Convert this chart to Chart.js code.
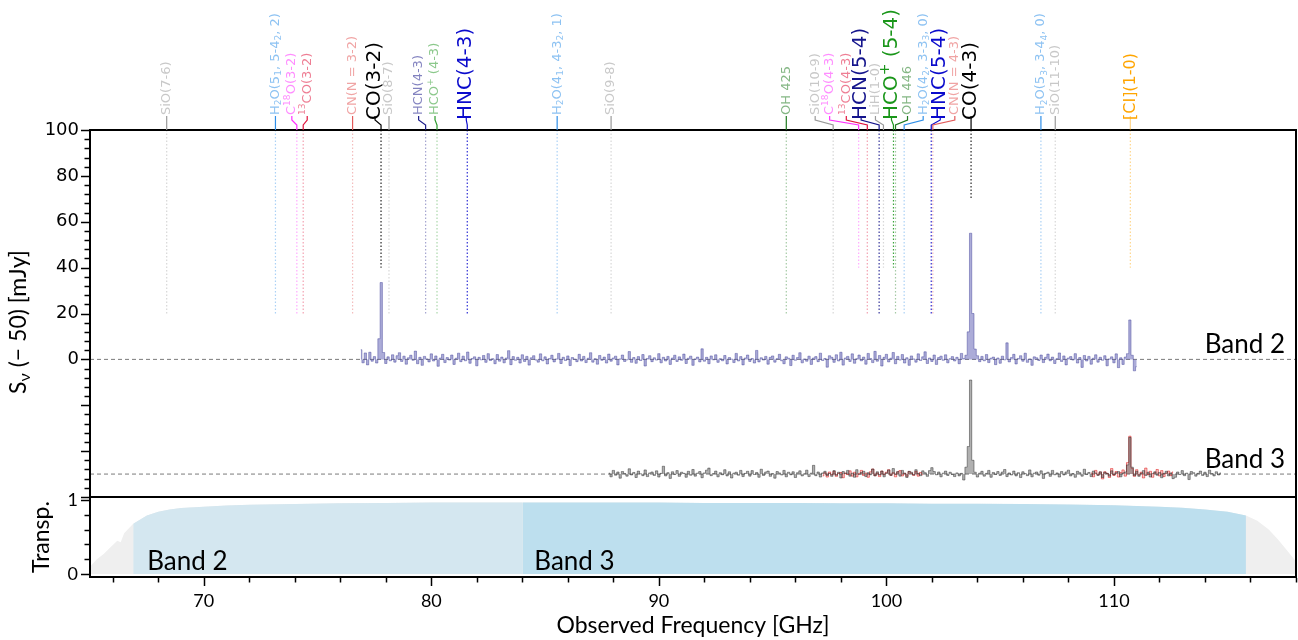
<!DOCTYPE html>
<html>
<head>
<meta charset="utf-8">
<title>Spectral scan – Band 2 / Band 3</title>
<script src="https://cdn.jsdelivr.net/npm/chart.js@4.4.1/dist/chart.umd.min.js"></script>
<style>
  html, body { margin: 0; padding: 0; background: #fff; }
  #wrap { width: 1298px; height: 640px; }
</style>
</head>
<body>
<div id="wrap"><canvas id="spec" width="1298" height="640"></canvas></div>
<script>
// frequency window [GHz]
const freqMin = 65;
const freqMax = 118;

// Band 2 spectrum [mJy], 0.1 GHz channels
const band2Start = 76.9;
const band2Step = 0.1;
const band2Flux = [
  4.2, -1.5, 2.8, -2.4, 3.1, -0.8, 1.2, -1.6, 9.0, 33.5, 3.0, -1.8, 1.1, -0.6, 2.0, -1.2, 1.6, 2.9, -0.9, 1.4,
  -2.1, 0.7, 1.8, -0.4, 3.6, -1.9, 0.9, -2.6, 1.3, 0.2, -1.1, 2.4, -0.7, 1.5, -3.0, 0.6, 2.2, -1.4, 0.8, -0.3,
  1.9, -2.2, 0.5, 2.7, -1.0, 1.4, -0.6, 3.2, -1.7, 0.4, 1.1, -2.8, 0.9, -0.2, 1.7, -1.3, 2.5, -0.5, 0.3, -1.9,
  2.1, -0.8, 1.0, -1.5, 0.6, 3.8, -2.3, 1.2, -0.4, 0.9, -1.6, 2.0, -0.9, 1.3, -2.5, 0.7, 1.6, -0.3, -1.2, 2.4,
  -0.6, 1.1, -2.0, 0.4, 1.8, -1.1, 0.2, 2.6, -1.8, 0.9, -0.5, 1.5, -2.7, 0.8, 0.1, -1.0, 2.2, -0.7, 1.3, -1.4,
  0.5, 2.9, -1.2, 0.3, -2.1, 1.7, -0.4, 1.0, -1.6, 2.3, -0.8, 0.6, 1.4, -2.4, 0.2, 1.9, -0.9, -0.2, 3.4, -1.3,
  0.8, -1.7, 1.2, -0.5, 2.1, -2.9, 0.4, 1.6, -1.0, 0.7, -0.3, 2.5, -1.5, 0.9, -0.7, 1.3, -2.2, 0.6, 1.8, -0.9,
  1.1, -0.4, 2.3, -1.8, 0.5, 1.4, -2.6, 0.2, 1.0, -1.1, 4.6, -0.8, 0.9, -1.9, 1.5, -0.2, 2.0, -1.3, 0.3, -0.6,
  1.7, -2.0, 0.8, 0.1, -1.4, 2.6, -0.7, 1.2, -2.4, 0.6, 1.9, -0.9, 0.4, -1.6, 3.9, -1.1, 0.7, -0.3, 1.3, -2.1,
  0.9, 1.5, -1.2, 0.3, 2.2, -0.6, -1.9, 1.1, 0.5, -2.7, 1.8, -0.4, 0.8, 2.9, -1.5, 0.2, -0.8, 1.4, -2.2, 0.6,
  1.2, -1.0, 2.7, -0.5, 0.4, -3.4, 1.6, 0.9, -1.3, 2.0, -0.7, 3.1, -2.5, 0.6, 1.3, -0.9, 2.4, -1.7, 0.3, 1.9,
  -0.6, 1.0, -2.1, 2.6, 0.4, -1.4, 3.5, -0.8, 1.7, -2.9, 0.9, 2.2, -1.1, 0.5, 3.0, -1.9, 1.3, -0.3, 2.1, -1.6,
  0.7, -2.6, 1.5, 0.2, -1.2, 2.4, -0.5, 1.1, 3.3, -1.8, 0.6, -0.9, 1.9, -2.2, 0.8, 1.4, -0.4, 2.0, -1.5, 0.3,
  1.2, -0.7, 0.9, -1.9, 2.6, 0.4, 1.8, 12.0, 55.0, 20.0, 4.5, 1.6, -1.0, 1.3, -0.6, 2.1, -1.4, 0.5, 1.0, -2.3,
  0.6, -1.7, 1.4, -0.2, 7.2, -1.1, 0.8, 2.2, -2.0, 0.4, 1.6, -0.8, 2.7, -1.3, 0.2, -2.6, 1.1, 0.7, -0.5, 1.9,
  -1.4, 0.9, 2.3, -0.6, 1.0, -1.8, 0.3, 2.8, -0.9, 1.5, -2.4, 0.6, 1.2, -0.3, 2.5, -1.6, 0.8, -3.5, 1.7, -0.7,
  1.3, -2.1, 0.5, 2.0, -1.2, 0.9, -0.4, 1.6, -2.8, 0.2, 1.1, -1.5, 2.4, -3.6, 0.7, -2.2, 1.0, 2.5, 17.2, 1.8,
  -5.0, -3.2
];

// Band 3 spectrum [mJy], drawn shifted down by band3Offset
const band3Start = 87.8;
const band3Step = 0.1;
const band3Offset = -50;
const band3Flux = [
  0.4, -1.2, 1.6, -0.5, 0.9, -1.8, 1.1, 0.2, -0.9, 2.3, -0.4, 0.7, -1.5, 1.3, 0.1, -0.7, 1.8, -1.1, 0.5, 0.9,
  -0.6, 1.4, -1.3, 0.3, 3.4, -0.8, 0.6, -1.9, 1.0, -0.2, 1.5, -1.0, 0.8, 0.3, -1.4, 1.2, -0.5, 2.0, -0.9, 0.4,
  1.1, -1.6, 0.5, 1.7, 2.6, -0.7, 0.2, 1.3, -1.2, 0.6, -0.3, 1.9, -0.8, 1.0, -1.7, 0.4, 0.8, -0.5, 1.6, -1.1,
  0.3, 1.2, -0.9, 1.5, -0.2, 0.7, -1.4, 2.1, -0.6, 0.9, 1.3, -1.0, 0.2, -1.8, 1.1, 0.5, -0.4, 1.6, -1.2, 0.8,
  -0.3, 1.0, -1.5, 0.6, 1.4, -0.8, 0.1, 1.7, -1.1, 0.4, 3.8, -0.7, 0.9, -1.3, 0.5, 1.2, -0.6, 0.3, -1.0, 1.5,
  -0.5, 0.8, -1.7, 1.1, 0.2, 1.6, -0.9, 0.4, -1.4, 1.9, -0.2, 0.7, 1.2, -1.1, 0.6, -0.3, 2.2, -0.8, 1.0, -0.4,
  1.3, -1.2, 0.5, 1.8, -0.6, 2.4, -0.1, 1.1, -0.9, 1.6, 0.4, -1.5, 1.2, 0.8, -0.4, 1.9, 0.3, -0.7, 1.4, 0.6,
  -1.0, 1.5, 2.8, 1.1, -0.3, 0.9, -1.2, 0.4, 1.3, -0.6, 0.8, -0.2, -1.1, 0.5, -0.8, 0.3, -2.6, 3.0, 12.0, 41.0,
  6.0, 0.8, -1.3, 0.4, 1.2, -0.9, 0.3, 1.6, -1.4, 0.7, -0.2, 1.1, -0.6, 0.9, 2.0, -1.1, 0.5, -0.4, 1.3, -0.8,
  0.6, -1.5, 1.0, 0.2, -0.7, 1.8, -1.2, 0.4, 0.9, -0.5, 1.4, -1.9, 0.3, 0.8, -1.0, 1.6, -0.3, 0.5, -1.3, 1.1,
  -0.4, 0.9, 1.7, -0.8, 0.2, -1.4, 1.2, 0.6, -0.9, 2.1, -0.2, 0.7, -1.1, 1.3, 0.4, -0.6, 1.0, -1.5, 0.8, 0.3,
  -0.9, 1.4, -0.3, 0.6, 1.1, -1.2, 0.5, 0.9, 4.0, 16.0, 3.0, -0.7, 1.2, -1.0, 0.4, 1.5, -0.6, 0.8, -1.3, 0.2,
  1.0, -0.5, 0.7, -1.6, 0.3, 1.2, -0.8, 0.5, -2.0, -1.4, 0.9, -0.2, 1.5, -0.7, 0.4, -2.4, 1.1, 0.6, -0.9, 0.3,
  1.3, -0.6, 0.8, -1.1, 1.7, 0.2, -0.8, 1.0, -0.4, 0.5
];

// second Band 3 tuning (two short windows)
const band3bStep = 0.1;
const band3bStartA = 97.2;
const band3bFluxA = [
  -0.8, 0.6, -1.3, 0.9, -0.4, 1.2, -1.0, 0.3, 0.7, -1.6, 0.5, -0.2, 1.4, -0.9, 0.8, -1.2, 0.2, 1.6, -0.6, 0.4,
  -1.4, 1.0, 2.2, -0.7, 0.5, -1.1, 1.3, -0.3, 0.8, 1.9, -0.5, 0.6, -1.2, 0.9, 1.5, -0.8, 0.3, -1.0, 1.1, 0.4,
  -0.6, 1.2, -0.9, 0.7, -0.3
];
const band3bStartB = 109.0;
const band3bFluxB = [
  0.5, -1.2, 1.6, -0.4, 0.9, -2.1, 1.0, 0.3, -1.5, 2.4, -0.6, 1.1, -1.3, 0.7, 1.8, -0.9, 5.0, 16.5, 2.5, -1.0,
  1.9, -0.5, 0.8, -1.7, 2.6, -0.3, 1.2, -1.4, 0.6, 2.0, -0.8, 1.5, -1.1, 0.4, 1.3, -0.7, 0.9
];

// line catalogue: name (_{} subscript, ^{} superscript), observed frequency [GHz],
// and the flux level [mJy] where the marker stops
const lineNames = [
  'SiO(7-6)', 'H_{2}O(5_{1}, 5-4_{2}, 2)', 'C^{18}O(3-2)', '^{13}CO(3-2)', 'CN(N = 3-2)', 'CO(3-2)', 'SiO(8-7)',
  'HCN(4-3)', 'HCO^{+} (4-3)', 'HNC(4-3)', 'H_{2}O(4_{1}, 4-3_{2}, 1)', 'SiO(9-8)', 'OH 425', 'SiO(10-9)',
  'C^{18}O(4-3)', '^{13}CO(4-3)', 'HCN(5-4)', 'LiH(1-0)', 'HCO^{+} (5-4)', 'OH 446', 'H_{2}O(4_{2}, 3-3_{3}, 0)',
  'HNC(5-4)', 'CN(N = 4-3)', 'CO(4-3)', 'H_{2}O(5_{3}, 3-4_{4}, 0)', 'SiO(11-10)', '[CI](1-0)'
];
const lineFreqs = [
  68.37, 73.15, 74.09, 74.37, 76.54, 77.79, 78.14,
  79.75, 80.25, 81.58, 85.53, 87.90, 95.60, 97.66,
  98.78, 99.16, 99.68, 99.87, 100.31, 100.40, 100.78,
  101.97, 102.04, 103.72, 106.79, 107.42, 110.72
];
const lineMarkEnd = [
  20, 20, 20, 20, 20, 40, 20,
  20, 20, 20, 20, 20, 20, 20,
  40, 20, 20, 40, 40, 20, 20,
  20, 20, 70, 20, 20, 40
];

// atmospheric transmission
const transFreq = [65.0, 65.3, 65.6, 65.9, 66.2, 66.35, 66.5, 66.9, 67.5, 68.0, 68.5, 69.0, 70, 71, 72, 74, 76, 78,
  80, 82, 84, 86, 88, 90, 92, 94, 96, 98, 100, 102, 104, 106, 108, 110, 111, 112, 113, 114, 115, 115.8,
  116.3, 116.8, 117.2, 117.6, 118.0];
const transVal = [0.10, 0.20, 0.27, 0.36, 0.45, 0.43, 0.55, 0.68, 0.79, 0.84, 0.87, 0.89, 0.91, 0.925, 0.935, 0.945, 0.955, 0.96,
  0.965, 0.965, 0.965, 0.965, 0.965, 0.965, 0.96, 0.96, 0.96, 0.955, 0.955, 0.95, 0.95, 0.945, 0.94, 0.93, 0.92, 0.91, 0.895, 0.87, 0.84, 0.79,
  0.72, 0.60, 0.47, 0.32, 0.17];
const band2Range = [66.9, 84.0];
const band3Range = [84.0, 115.8];

// axis ticks
const xTicks = [70, 80, 90, 100, 110];
const yTicks = [0, 20, 40, 60, 80, 100];
const transTicks = [0, 1];

// label styling for the catalogue (colour, font size, label shift in px)
const lineColors = [
  '#9a9a9a', '#2f8fe8', '#ff30ff', '#e0143c', '#e35a5a', '#000000', '#9a9a9a',
  '#1c1c8a', '#2c9a2c', '#0a0acc', '#2f8fe8', '#9a9a9a', '#1f7a1f', '#9a9a9a',
  '#ff30ff', '#e0143c', '#14148c', '#9a9a9a', '#1a961a', '#1f7a1f', '#2f8fe8',
  '#0a0acc', '#e35a5a', '#000000', '#2f8fe8', '#9a9a9a', '#ffa500'
];
const SMALL = 13, BIG = 20, MID = 16;
const lineSizes = [
  SMALL, SMALL, SMALL, SMALL, SMALL, BIG, SMALL,
  SMALL, SMALL, BIG, SMALL, SMALL, SMALL, SMALL,
  SMALL, SMALL, BIG, SMALL, BIG, SMALL, SMALL,
  BIG, SMALL, BIG, SMALL, SMALL, MID
];
const labelShift = [
  0, 0, -5, 4, 0, -6, 0,
  -7, -2, -1, 0, 0, 0, -18,
  -29, -21, -18, -8, -2, 12, 19,
  9, 22, 0, 0, 0, 0
];

const specFont = '"DejaVu Sans", Verdana, sans-serif';
const textFont = 'Lato, sans-serif';

function channels(start, step, flux, offset) {
  return flux.map((v, i) => ({ x: +(start + i * step).toFixed(3), y: v + (offset || 0) }));
}

function bandFill(range) {
  const pts = [];
  transFreq.forEach((f, i) => {
    if (f >= range[0] && f <= range[1]) pts.push({ x: f, y: transVal[i] });
  });
  return pts;
}

function withAlpha(hex, a) {
  const n = parseInt(hex.slice(1), 16);
  return 'rgba(' + (n >> 16) + ',' + ((n >> 8) & 255) + ',' + (n & 255) + ',' + a + ')';
}

// split "H_{2}O" style markup into plain / sub / super runs
function richParts(label) {
  const parts = [];
  const re = /([_^])\{([^}]*)\}|([^_^]+)/g;
  let m;
  while ((m = re.exec(label))) {
    if (m[3]) parts.push({ t: m[3], k: 0 });
    else parts.push({ t: m[2], k: m[1] === '_' ? -1 : 1 });
  }
  return parts;
}

function drawRich(ctx, label, size, family) {
  let cx = 0;
  richParts(label).forEach(p => {
    const s = p.k ? size * 0.7 : size;
    ctx.font = s + 'px ' + family;
    const dy = p.k === -1 ? size * 0.28 : (p.k === 1 ? -size * 0.32 : 0);
    ctx.fillText(p.t, cx, dy);
    cx += ctx.measureText(p.t).width;
  });
}

const datasets = [];

// spectra
datasets.push({
  data: channels(band2Start, band2Step, band2Flux),
  yAxisID: 'y', stepped: 'middle', order: 1,
  borderColor: 'rgba(60, 60, 150, 0.75)', borderWidth: 0.6,
  backgroundColor: 'rgba(90, 90, 178, 0.5)', fill: { value: 0 }
});
datasets.push({
  data: channels(band3bStartA, band3bStep, band3bFluxA, band3Offset),
  yAxisID: 'y', stepped: 'middle', order: 2,
  borderColor: 'rgba(225, 25, 25, 0.8)', borderWidth: 0.7,
  backgroundColor: 'rgba(225, 40, 40, 0.25)', fill: { value: band3Offset }
});
datasets.push({
  data: channels(band3bStartB, band3bStep, band3bFluxB, band3Offset),
  yAxisID: 'y', stepped: 'middle', order: 2,
  borderColor: 'rgba(225, 25, 25, 0.8)', borderWidth: 0.7,
  backgroundColor: 'rgba(225, 40, 40, 0.25)', fill: { value: band3Offset }
});
datasets.push({
  data: channels(band3Start, band3Step, band3Flux, band3Offset),
  yAxisID: 'y', stepped: 'middle', order: 1,
  borderColor: 'rgba(30, 30, 30, 0.75)', borderWidth: 0.6,
  backgroundColor: 'rgba(80, 80, 80, 0.45)', fill: { value: band3Offset }
});

// zero levels
[0, band3Offset].forEach(level => {
  datasets.push({
    data: [{ x: freqMin, y: level }, { x: freqMax, y: level }],
    yAxisID: 'y', order: 4, borderColor: '#7a7a7a', borderWidth: 1, borderDash: [4, 3], fill: false
  });
});

// line markers
lineFreqs.forEach((f, i) => {
  const strong = lineSizes[i] !== SMALL;
  datasets.push({
    data: [{ x: f, y: 100 }, { x: f, y: lineMarkEnd[i] }],
    yAxisID: 'y', order: 5, fill: false,
    borderColor: withAlpha(lineColors[i], i === 26 ? 0.45 : (strong ? 0.85 : 0.4)),
    borderWidth: 1.2, borderDash: [1.5, 2]
  });
});

// transmission and band coverage
datasets.push({
  data: bandFill(band2Range), yAxisID: 'y2', order: 6,
  borderWidth: 0, borderColor: 'rgba(0,0,0,0)', backgroundColor: '#d4e7f0', fill: 'origin'
});
datasets.push({
  data: bandFill(band3Range), yAxisID: 'y2', order: 6,
  borderWidth: 0, borderColor: 'rgba(0,0,0,0)', backgroundColor: '#bddfee', fill: 'origin'
});
datasets.push({
  data: transFreq.map((f, i) => ({ x: f, y: transVal[i] })), yAxisID: 'y2', order: 7,
  borderWidth: 0, borderColor: 'rgba(0,0,0,0)', backgroundColor: '#efefef', fill: 'origin'
});

function drawTicks(ctx, scale, from, to, step, majorEvery, horizontal, edge) {
  const n = Math.round((to - from) / step);
  for (let k = 0; k <= n; k++) {
    const v = from + k * step;
    const major = Math.abs(v / majorEvery - Math.round(v / majorEvery)) < 1e-6;
    const len = major ? 8 : 4.5;
    const p = Math.round(scale.getPixelForValue(v)) + 0.5;
    ctx.beginPath();
    if (horizontal) { ctx.moveTo(p, edge); ctx.lineTo(p, edge + len); }
    else { ctx.moveTo(edge, p); ctx.lineTo(edge - len, p); }
    ctx.stroke();
  }
}

const decor = {
  id: 'decor',
  afterDraw(chart) {
    const { ctx, chartArea } = chart;
    const { x, y, y2 } = chart.scales;
    const left = chartArea.left, right = chartArea.right;
    ctx.save();

    // panel frames
    ctx.strokeStyle = '#000';
    ctx.lineWidth = 2;
    ctx.strokeRect(left, y.top, right - left, y.bottom - y.top);
    ctx.strokeRect(left, y2.top, right - left, y2.bottom - y2.top);

    // major / minor ticks
    ctx.lineWidth = 1.5;
    drawTicks(ctx, x, 66, 118, 2, 10, true, y2.bottom + 1);
    drawTicks(ctx, y, -60, 100, 4, 20, false, left - 1);
    drawTicks(ctx, y2, 0, 1, 0.2, 1, false, left - 1);

    // axis titles
    ctx.fillStyle = '#000';
    ctx.font = '23px ' + textFont;
    ctx.textAlign = 'center';
    ctx.textBaseline = 'alphabetic';
    ctx.fillText('Observed Frequency [GHz]', (left + right) / 2, 633);

    ctx.save();
    ctx.translate(42, (y2.top + y2.bottom) / 2);
    ctx.rotate(-Math.PI / 2);
    ctx.textBaseline = 'middle';
    ctx.font = '23px ' + textFont;
    ctx.fillText('Transp.', 0, 0);
    ctx.restore();

    ctx.save();
    ctx.translate(26, 322);
    ctx.rotate(-Math.PI / 2);
    ctx.textAlign = 'left';
    ctx.textBaseline = 'alphabetic';
    const big = '23px ' + textFont, sub = '16px ' + textFont;
    const rest = ' (− 50) [mJy]';
    ctx.font = big; const wS = ctx.measureText('S').width, wR = ctx.measureText(rest).width;
    ctx.font = sub; const wN = ctx.measureText('ν').width;
    let cx = -(wS + wN + wR) / 2;
    ctx.font = big; ctx.fillText('S', cx, 0); cx += wS;
    ctx.font = sub; ctx.fillText('ν', cx, 4); cx += wN;
    ctx.font = big; ctx.fillText(rest, cx, 0);
    ctx.restore();

    // band names
    ctx.font = '26px ' + textFont;
    ctx.textAlign = 'right';
    ctx.fillText('Band 2', right - 11, y.getPixelForValue(0) - 6);
    ctx.fillText('Band 3', right - 11, y.getPixelForValue(band3Offset) - 6);
    ctx.textAlign = 'left';
    ctx.fillText('Band 2', x.getPixelForValue(band2Range[0]) + 14, y2.getPixelForValue(0) - 4);
    ctx.fillText('Band 3', x.getPixelForValue(band3Range[0]) + 12, y2.getPixelForValue(0) - 4);

    // line identifications above the spectrum
    const top = y.top;
    lineNames.forEach((name, i) => {
      const px = x.getPixelForValue(lineFreqs[i]);
      const lx = px + labelShift[i];
      const strong = lineSizes[i] !== SMALL;
      ctx.strokeStyle = withAlpha(lineColors[i], i === 26 ? 0.45 : 1);
      ctx.lineWidth = 1.2;
      ctx.beginPath();
      ctx.moveTo(lx, top - 14);
      if (Math.abs(lx - px) > 0.5) {
        ctx.lineTo(lx, top - 10);
        ctx.lineTo(px, top - 5);
      }
      ctx.lineTo(px, top);
      ctx.stroke();

      ctx.save();
      ctx.translate(lx, top - (strong ? 10 : 15));
      ctx.rotate(-Math.PI / 2);
      ctx.textAlign = 'left';
      ctx.textBaseline = 'middle';
      ctx.fillStyle = withAlpha(lineColors[i], strong ? 1 : 0.55);
      drawRich(ctx, name, lineSizes[i], specFont);
      ctx.restore();
    });

    ctx.restore();
  }
};

new Chart(document.getElementById('spec'), {
  type: 'line',
  data: { datasets: datasets },
  options: {
    responsive: false,
    animation: false,
    events: [],
    layout: { padding: { top: 130, right: 2, left: 0, bottom: 0 } },
    elements: { point: { radius: 0 }, line: { tension: 0 } },
    plugins: { legend: { display: false }, tooltip: { enabled: false } },
    scales: {
      x: {
        type: 'linear', position: 'bottom', min: freqMin, max: freqMax,
        grid: { display: false, drawTicks: false }, border: { display: false },
        ticks: { padding: 13, color: '#000', font: { family: textFont, size: 18 } },
        afterBuildTicks: s => { s.ticks = xTicks.map(v => ({ value: v })); },
        afterFit: s => { s.height = 63; }
      },
      y: {
        type: 'linear', position: 'left', stack: 'panels', stackWeight: 367, weight: 2,
        min: -60, max: 100,
        grid: { display: false, drawTicks: false }, border: { display: false },
        ticks: { padding: 11, color: '#000', font: { family: specFont, size: 18 } },
        afterBuildTicks: s => { s.ticks = yTicks.map(v => ({ value: v })); },
        afterFit: s => { s.width = 90; }
      },
      y2: {
        type: 'linear', position: 'left', stack: 'panels', stackWeight: 80, weight: 1,
        min: -0.04, max: 1.04,
        grid: { display: false, drawTicks: false }, border: { display: false },
        ticks: { padding: 12, color: '#000', font: { family: textFont, size: 18 } },
        afterBuildTicks: s => { s.ticks = transTicks.map(v => ({ value: v })); },
        afterFit: s => { s.width = 90; }
      }
    }
  },
  plugins: [decor]
});
</script>
</body>
</html>
